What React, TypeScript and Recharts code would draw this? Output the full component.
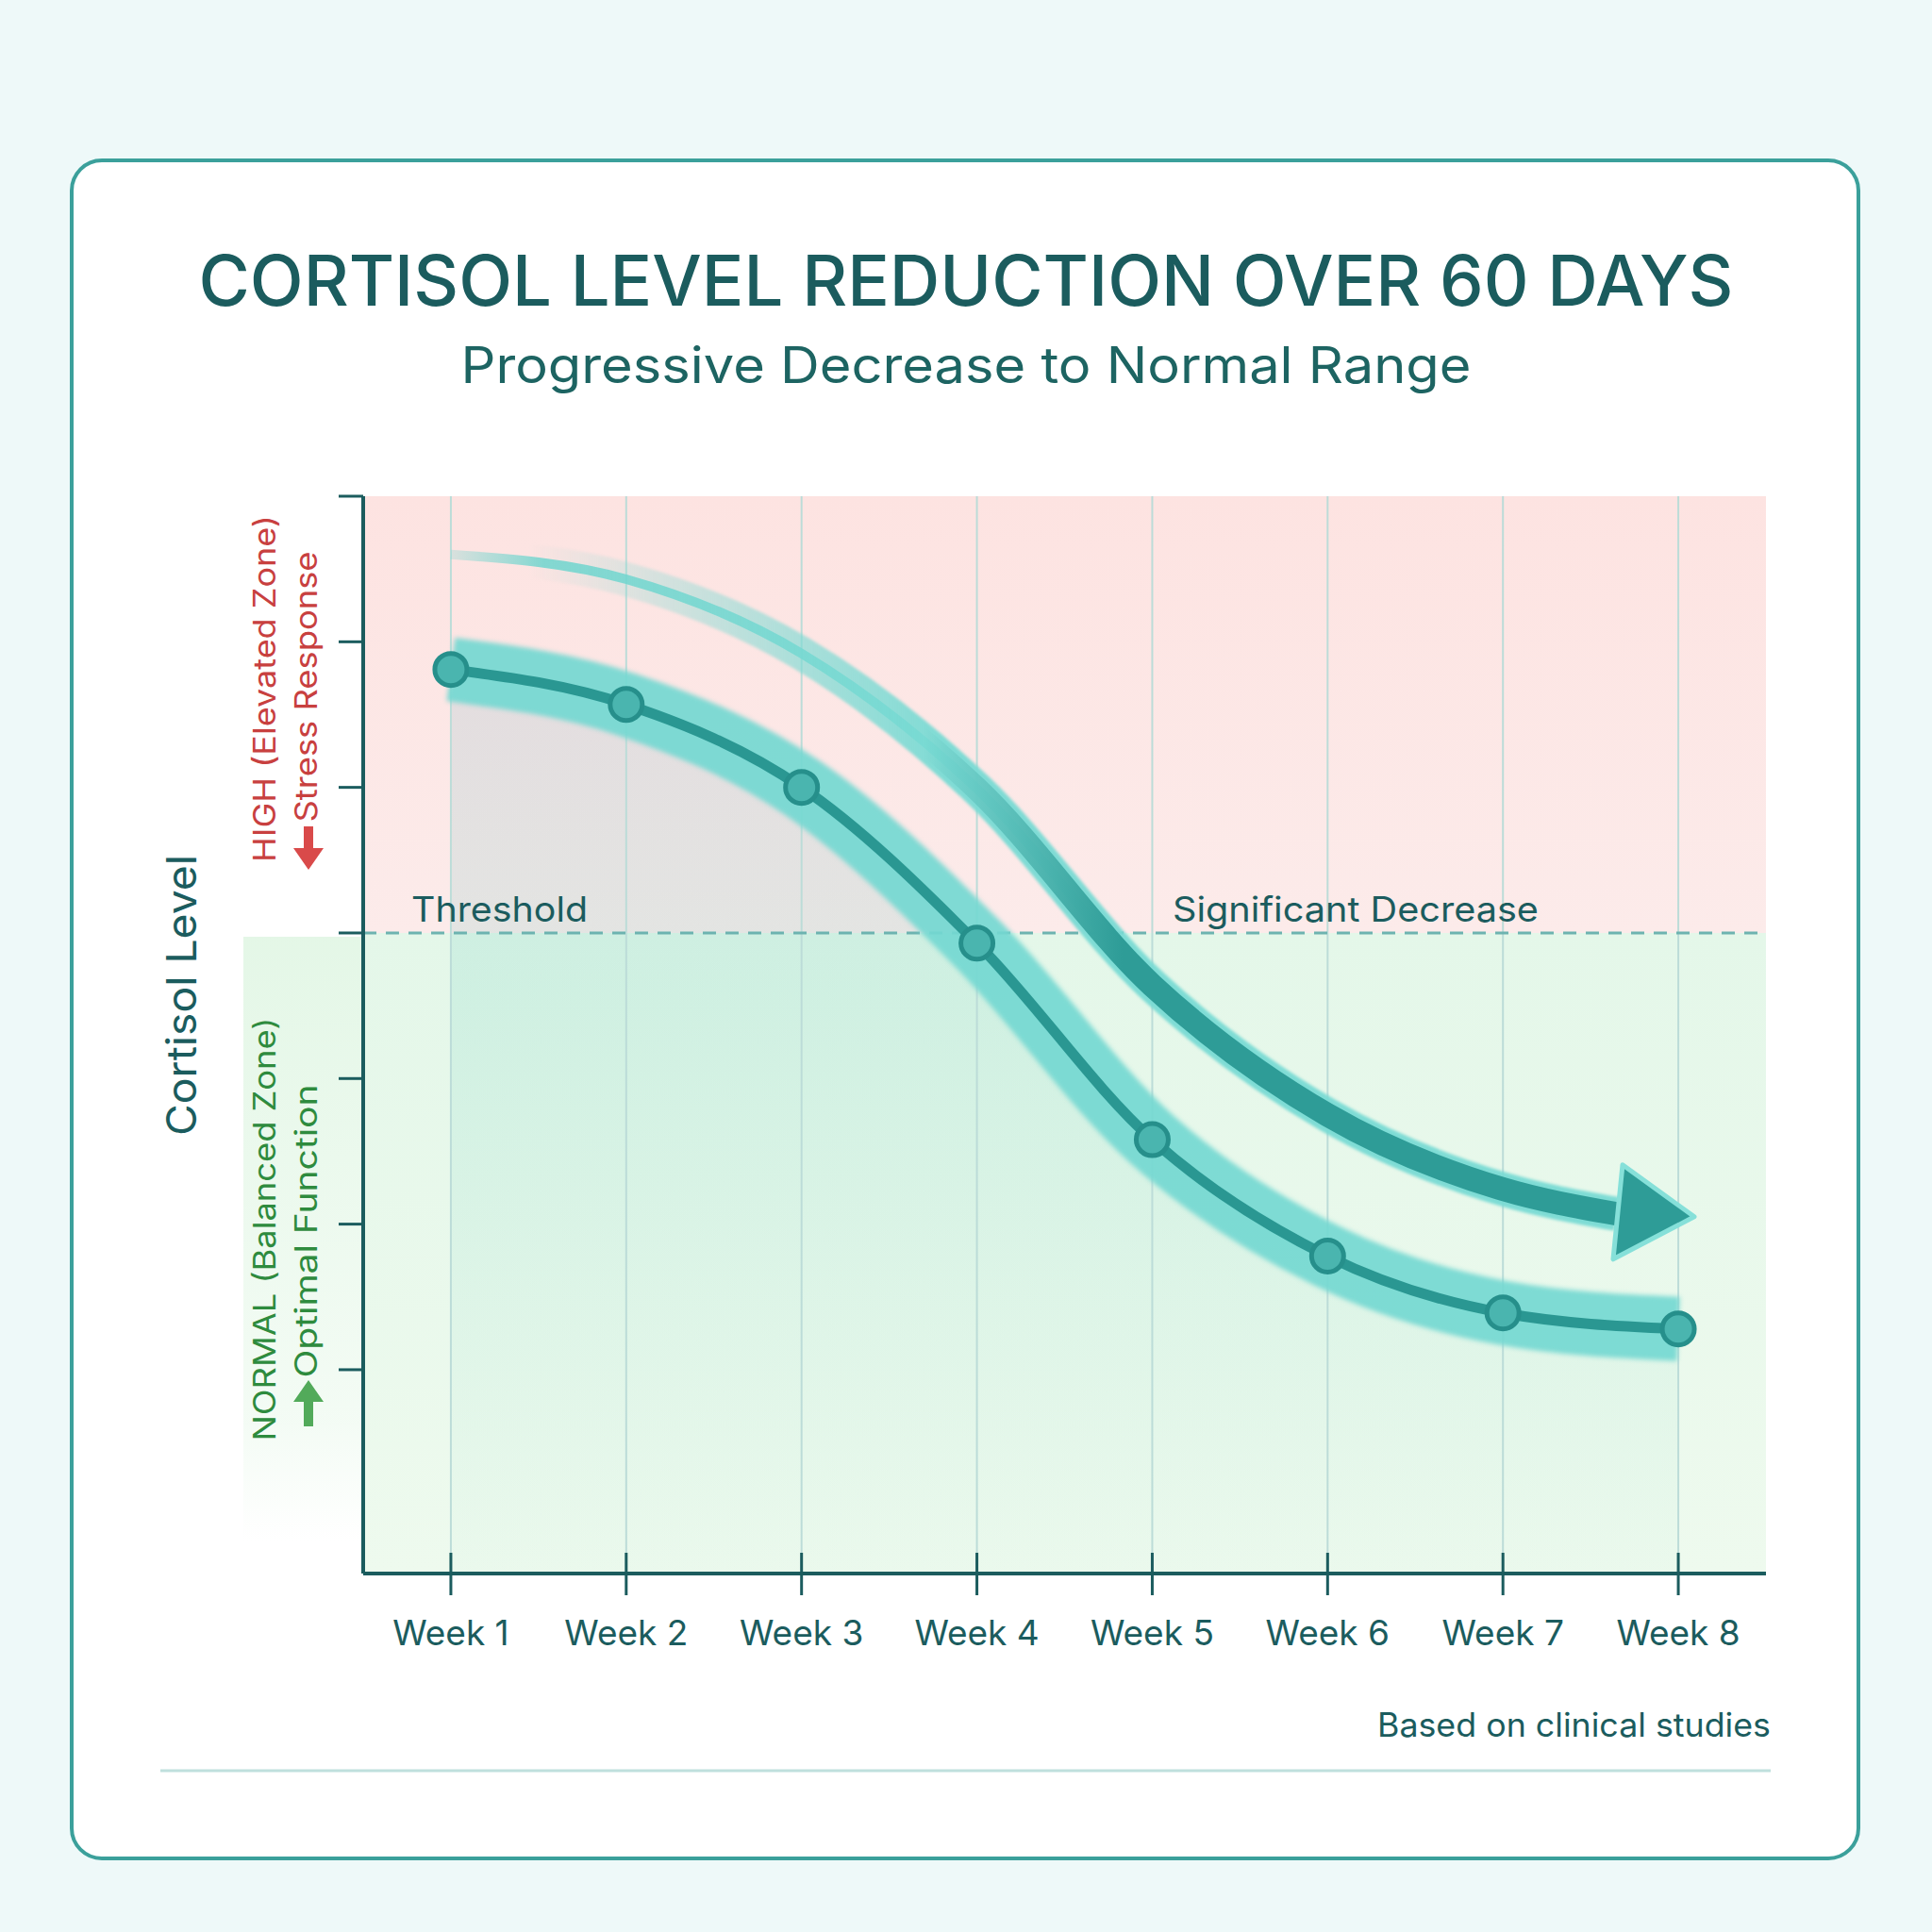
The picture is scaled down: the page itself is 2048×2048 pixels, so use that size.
import React from "react"
import {
  ComposedChart,
  Line,
  Area,
  XAxis,
  YAxis,
  ReferenceArea,
  ReferenceLine,
} from "recharts"

// weekly readings, arbitrary cortisol units
const weeks = [1, 2, 3, 4, 5, 6, 7, 8]
const weekLabels = ["Week 1", "Week 2", "Week 3", "Week 4", "Week 5", "Week 6", "Week 7", "Week 8"]
const cortisol = [68.1, 65.7, 60.0, 49.3, 35.8, 27.8, 23.9, 22.8]

// decorative trend arrow above the readings
const trendWeeks = [1, 2, 3, 4, 5, 6, 7, 7.65]
const trendLevels = [76.0, 74.3, 69.2, 59.9, 46.4, 37.5, 32.4, 30.7]

const yTicks = [20, 30, 40, 50, 60, 70, 80]
const yDomain = [6, 80]
const threshold = 50

const rows = weeks.map((w, i) => ({ week: w, level: cortisol[i] }))
const trendRows = trendWeeks.map((w, i) => ({ week: w, trend: trendLevels[i] }))

const DARK = "#1b5c5e"
const FONT = "Inter, 'Open Sans', sans-serif"

const WeekTick = ({ x, y, payload }: any) => (
  <g>
    <line x1={x} x2={x} y1={y - 22} y2={y + 23} stroke={DARK} strokeWidth={3} />
    <text x={x} y={y + 76} textAnchor="middle" fill={DARK} fontSize={37} fontFamily={FONT}>
      {weekLabels[payload.value - 1]}
    </text>
  </g>
)

const ArrowHead = (props: any) => {
  const { cx, cy, index } = props
  if (index !== trendRows.length - 1) return <g key={`a-${index}`} />
  return (
    <polygon
      key="arrow-head"
      points={`${cx + 6},${cy - 52} ${cx + 82},${cy + 3} ${cx - 4},${cy + 48}`}
      fill="#2e9c97"
      stroke="#86e0d9"
      strokeWidth={5}
      strokeLinejoin="round"
    />
  )
}

const RotLabel = ({ x, y, children, size, color, len }: any) => (
  <text
    x={x}
    y={y}
    transform={`rotate(-90 ${x} ${y})`}
    textAnchor="middle"
    dominantBaseline="central"
    fontSize={size}
    fill={color}
    fontFamily={FONT}
    textLength={len}
    lengthAdjust="spacingAndGlyphs"
  >
    {children}
  </text>
)

export default function App() {
  return (
    <div style={{ position: "absolute", left: 0, top: 0, width: 2048, height: 2048, background: "#eef9f9", overflow: "hidden" }}>
      <style>{`
        .band path { filter: blur(2.5px); }
        .trend-glow path { filter: blur(1.5px); }
      `}</style>

      {/* card */}
      <div
        style={{
          position: "absolute",
          left: 74,
          top: 168,
          width: 1898,
          height: 1804,
          boxSizing: "border-box",
          background: "#ffffff",
          border: "4px solid #3ba09b",
          borderRadius: 34,
        }}
      />

      {/* faint green strip beside the normal zone */}
      <div
        style={{
          position: "absolute",
          left: 258,
          top: 993,
          width: 127,
          height: 640,
          background: "linear-gradient(180deg, rgba(225,246,228,0.9) 0%, rgba(232,248,234,0.5) 80%, rgba(255,255,255,0) 100%)",
        }}
      />

      <div style={{ position: "absolute", left: 0, top: 0 }}>
        <ComposedChart
          width={2048}
          height={2048}
          data={rows}
          margin={{ top: 526, right: 176, bottom: 350, left: 325 }}
        >
          <defs>
            <linearGradient id="pinkZone" x1="0" y1="0" x2="0" y2="1">
              <stop offset="0%" stopColor="#fde3e1" />
              <stop offset="100%" stopColor="#fcebea" />
            </linearGradient>
            <linearGradient id="greenZone" x1="0" y1="0" x2="0" y2="1">
              <stop offset="0%" stopColor="#e4f7e9" />
              <stop offset="100%" stopColor="#eefaee" />
            </linearGradient>
            <linearGradient id="areaFill" x1="0" y1="0" x2="0" y2="1">
              <stop offset="0%" stopColor="#4aa3bd" stopOpacity={0.14} />
              <stop offset="35%" stopColor="#3fbfae" stopOpacity={0.13} />
              <stop offset="100%" stopColor="#3fc0a8" stopOpacity={0.02} />
            </linearGradient>
            <linearGradient id="trendThin" gradientUnits="userSpaceOnUse" x1="470" y1="0" x2="1800" y2="0">
              <stop offset="0%" stopColor="#6fd5ce" stopOpacity={0.2} />
              <stop offset="8%" stopColor="#6fd5ce" stopOpacity={0.85} />
              <stop offset="100%" stopColor="#6fd5ce" stopOpacity={0.9} />
            </linearGradient>
            <linearGradient id="trendGlow" gradientUnits="userSpaceOnUse" x1="560" y1="0" x2="1000" y2="0">
              <stop offset="0%" stopColor="#78dad3" stopOpacity={0} />
              <stop offset="100%" stopColor="#78dad3" stopOpacity={0.95} />
            </linearGradient>
            <linearGradient id="trendCore" gradientUnits="userSpaceOnUse" x1="980" y1="0" x2="1190" y2="0">
              <stop offset="0%" stopColor="#2e9c97" stopOpacity={0} />
              <stop offset="100%" stopColor="#2e9c97" stopOpacity={1} />
            </linearGradient>
          </defs>

          <ReferenceArea y1={threshold} y2={80} fill="url(#pinkZone)" fillOpacity={1} stroke="none" />
          <ReferenceArea y1={6} y2={threshold} fill="url(#greenZone)" fillOpacity={1} stroke="none" />
          {weeks.map((w) => (
            <ReferenceLine key={`grid-${w}`} x={w} stroke="#bcdcd8" strokeWidth={2} />
          ))}

          <XAxis
            type="number"
            dataKey="week"
            domain={[0.5, 8.5]}
            ticks={weeks}
            interval={0}
            height={30}
            tickSize={0}
            tickMargin={0}
            tickLine={false}
            tick={<WeekTick />}
            axisLine={{ stroke: DARK, strokeWidth: 4 }}
            allowDataOverflow
          />
          <YAxis
            type="number"
            domain={yDomain}
            ticks={yTicks}
            width={60}
            tickSize={26}
            tick={() => <g />}
            tickLine={{ stroke: DARK, strokeWidth: 3 }}
            axisLine={{ stroke: DARK, strokeWidth: 4 }}
            allowDataOverflow
          />

          <ReferenceLine y={threshold} stroke="#6db3b0" strokeWidth={3} strokeDasharray="14 10" />

          <Area
            type="monotone"
            dataKey="level"
            fill="url(#areaFill)"
            fillOpacity={1}
            stroke="none"
            isAnimationActive={false}
          />

          {/* trend arrow, layered so it thickens from left to right */}
          <Line
            data={trendRows}
            type="monotone"
            dataKey="trend"
            stroke="url(#trendThin)"
            strokeWidth={10}
            dot={false}
            activeDot={false}
            isAnimationActive={false}
          />
          <Line
            data={trendRows}
            className="trend-glow"
            type="monotone"
            dataKey="trend"
            stroke="url(#trendGlow)"
            strokeWidth={36}
            dot={false}
            activeDot={false}
            isAnimationActive={false}
          />
          <Line
            data={trendRows}
            type="monotone"
            dataKey="trend"
            stroke="url(#trendCore)"
            strokeWidth={25}
            dot={ArrowHead}
            activeDot={false}
            isAnimationActive={false}
          />

          {/* soft band behind the readings */}
          <Line
            className="band"
            type="monotone"
            dataKey="level"
            stroke="#74d8d1"
            strokeOpacity={0.92}
            strokeWidth={68}
            strokeLinecap="butt"
            dot={false}
            activeDot={false}
            isAnimationActive={false}
          />
          <Line
            type="monotone"
            dataKey="level"
            stroke="#2a9792"
            strokeWidth={11}
            dot={{ r: 17, fill: "#4ab5af", stroke: "#268f8b", strokeWidth: 5 }}
            activeDot={false}
            isAnimationActive={false}
          />
        </ComposedChart>
      </div>

      {/* titles and annotations */}
      <svg width={2048} height={2048} style={{ position: "absolute", left: 0, top: 0, pointerEvents: "none" }}>
        <text
          x={1024}
          y={324}
          textAnchor="middle"
          fontSize={74}
          fontWeight={500}
          fill={DARK}
          fontFamily={FONT}
          textLength={1627}
          lengthAdjust="spacingAndGlyphs"
        >
          CORTISOL LEVEL REDUCTION OVER 60 DAYS
        </text>
        <text
          x={1024}
          y={406}
          textAnchor="middle"
          fontSize={53}
          fill="#1d6462"
          fontFamily={FONT}
          textLength={1071}
          lengthAdjust="spacingAndGlyphs"
        >
          Progressive Decrease to Normal Range
        </text>

        <RotLabel x={192} y={1055} size={44} color={DARK} len={298}>
          Cortisol Level
        </RotLabel>
        <RotLabel x={280} y={730} size={32} color="#c8403f" len={368}>
          HIGH (Elevated Zone)
        </RotLabel>
        <RotLabel x={324} y={728} size={32} color="#c8403f" len={287}>
          Stress Response
        </RotLabel>
        <RotLabel x={280} y={1303} size={32} color="#2e8b3e" len={449}>
          NORMAL (Balanced Zone)
        </RotLabel>
        <RotLabel x={324} y={1305} size={32} color="#2e8b3e" len={311}>
          Optimal Function
        </RotLabel>

        {/* zone arrows */}
        <polygon points="322,876 332,876 332,899 343,899 327,922 311,899 322,899" fill="#d94a4a" />
        <polygon points="322,1512 332,1512 332,1486 343,1486 327,1463 311,1486 322,1486" fill="#52aa5a" />

        <text x={436} y={977} fontSize={37} fill={DARK} fontFamily={FONT} textLength={187} lengthAdjust="spacingAndGlyphs">
          Threshold
        </text>
        <text x={1243} y={977} fontSize={37} fill={DARK} fontFamily={FONT} textLength={388} lengthAdjust="spacingAndGlyphs">
          Significant Decrease
        </text>

        <text
          x={1877}
          y={1841}
          textAnchor="end"
          fontSize={35}
          fill={DARK}
          fontFamily={FONT}
          textLength={417}
          lengthAdjust="spacingAndGlyphs"
        >
          Based on clinical studies
        </text>
        <line x1={170} x2={1877} y1={1877} y2={1877} stroke="#bfe0dd" strokeWidth={3} />
      </svg>
    </div>
  )
}
